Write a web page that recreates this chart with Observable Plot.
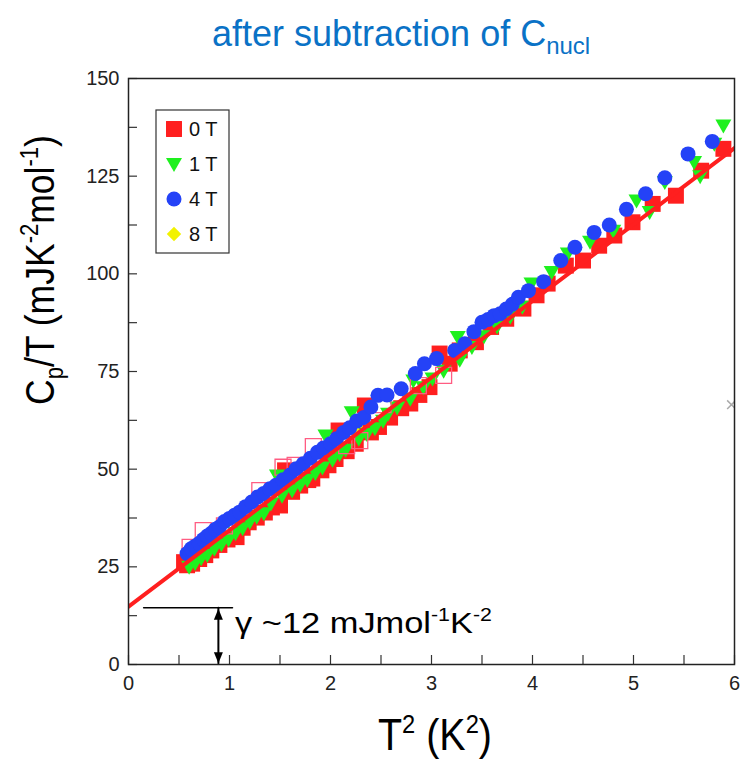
<!DOCTYPE html>
<html><head><meta charset="utf-8">
<script src="https://cdn.jsdelivr.net/npm/d3@7"></script>
<script src="https://cdn.jsdelivr.net/npm/@observablehq/plot@0.6"></script>
<style>
body{margin:0;background:#fff;}
#wrap{width:749px;height:764px;position:relative;overflow:hidden;background:#fff;}
#title{height:60px;box-sizing:border-box;padding-left:212px;padding-top:16px;font-family:"Liberation Sans",Arial,sans-serif;font-size:36px;line-height:1;color:#0a72c6;white-space:nowrap;}
#title sub{font-size:24px;vertical-align:-8px;line-height:0;}
svg{display:block;}
</style></head><body>
<div id="wrap"><div id="title">after subtraction of C<sub>nucl</sub></div><div id="chart"></div></div>
<script>
// ---- data ----
const seriesNames = ["0 T", "1 T", "4 T", "8 T"];
const seriesColors = ["#ff1f1f", "#1ef01e", "#2442f7", "#f2f200"];

const x0T = [0.55,0.58,0.63,0.70,0.76,0.82,0.90,0.98,1.07,1.13,1.19,1.27,1.35,1.42,1.50,1.55,1.62,1.70,1.78,1.82,1.91,1.98,2.00,2.05,2.08,2.16,2.25,2.34,2.40,2.48,2.59,2.70,2.79,2.88,2.98,3.08,3.18,3.28,3.44,3.59,3.74,3.91,4.04,4.15,4.33,4.50,4.66,4.81,4.99,5.19,5.42,5.67,5.89];
const y0T = [26.2,25.4,25.8,27.0,28.0,29.2,30.6,32.0,32.6,35.0,36.4,37.6,38.9,40.2,40.7,49.7,44.2,45.8,47.2,47.6,49.7,51.0,52.7,52.6,59.9,54.6,56.5,66.3,59.4,60.8,63.2,65.6,66.8,69.0,71.0,79.6,77.0,80.4,82.5,86.4,88.5,91.1,94.5,97.5,102.1,103.4,107.2,109.8,113.2,117.9,120.0,126.4,132.0];

const x1T = [0.60,0.66,0.72,0.78,0.85,0.92,0.99,1.06,1.13,1.20,1.27,1.34,1.41,1.47,1.52,1.62,1.70,1.77,1.85,1.92,1.95,2.02,2.09,2.15,2.21,2.28,2.36,2.44,2.52,2.57,2.66,2.79,2.82,2.92,3.01,3.12,3.26,3.28,3.40,3.52,3.65,3.78,3.90,3.99,4.19,4.35,4.57,4.80,5.03,5.16,5.31,5.60,5.66,5.80,5.89];
const y1T = [25.0,26.0,27.2,28.0,29.6,30.8,32.0,33.6,34.9,36.5,37.8,38.7,41.2,48.4,43.2,44.6,46.0,47.3,49.0,50.4,58.6,52.4,53.9,55.0,64.6,57.8,59.0,60.5,62.4,64.2,65.8,68.0,72.7,71.0,73.2,75.2,83.8,78.0,81.3,84.0,86.5,89.0,91.6,97.5,100.5,105.2,108.2,111.0,118.8,115.8,123.5,128.6,125.0,133.3,138.0];

const x4T = [0.58,0.62,0.66,0.70,0.74,0.78,0.82,0.86,0.90,0.95,1.00,1.05,1.10,1.16,1.22,1.28,1.34,1.40,1.46,1.53,1.60,1.66,1.73,1.80,1.87,1.93,2.00,2.06,2.13,2.19,2.26,2.33,2.40,2.47,2.56,2.70,2.84,2.93,3.05,3.23,3.33,3.42,3.50,3.56,3.62,3.68,3.74,3.80,3.86,3.96,4.11,4.28,4.42,4.61,4.76,4.93,5.12,5.31,5.54,5.78];
const y4T = [28.4,29.6,30.3,31.0,32.0,32.9,33.6,34.6,35.2,36.6,37.4,38.2,39.0,40.4,41.6,42.9,43.8,45.0,45.9,47.3,48.5,50.1,51.4,52.8,54.3,55.4,56.5,57.8,59.4,60.6,62.3,63.2,65.9,68.9,69.0,70.6,74.5,77.0,78.3,80.4,82.1,85.2,87.6,88.3,89.3,89.8,91.0,92.2,94.0,95.7,98.0,103.4,106.8,110.6,112.5,116.5,120.5,124.6,130.7,133.9];

const x8T = [0.90,1.60,2.30];
const y8T = [32.4,46.2,60.0];

// open (hollow) pink squares
const xOpen = [0.61,0.74,0.95,1.30,1.53,1.65,1.83,2.16,2.29,2.52,2.87,3.12];
const yOpen = [30.0,34.3,35.5,44.5,50.5,51.0,55.8,56.0,57.3,66.5,71.4,74.0];

// stray grey point at the right edge
const xStray = [5.97];
const yStray = [66.5];

// linear fit
const fitX = [0, 6];
const fitY = [14.8, 132.2];

// gamma annotation
const gammaLineX = [0.15, 1.03];
const gammaLineY = [14.5, 14.5];
const gammaArrowX = 0.89;
const gammaArrowY = [14.5, 0.3];
const gammaTextX = 1.06;
const gammaTextY = 7.9;

// ticks
const xTickLabels = [0,1,2,3,4,5,6];
const yTickLabels = [0,25,50,75,100,125,150];
const xMinorTicks = [0,0.5,1,1.5,2,2.5,3,3.5,4,4.5,5,5.5,6];
const yMinorTicks = [0,12.5,25,37.5,50,62.5,75,87.5,100,112.5,125,137.5,150];

// ---- helpers ----
const toRows = (xs, ys) => xs.map((x, i) => ({x, y: ys[i]}));
const triDown = {draw(ctx, size) { const k = Math.sqrt(size) / 14.18; ctx.moveTo(-8*k, -6*k); ctx.lineTo(8*k, -6*k); ctx.lineTo(0, 8*k); ctx.closePath(); }};
const headUp = {draw(ctx) { ctx.moveTo(0, 0); ctx.lineTo(4.5, 11); ctx.lineTo(-4.5, 11); ctx.closePath(); }};
const headDown = {draw(ctx) { ctx.moveTo(0, 0); ctx.lineTo(4.5, -11); ctx.lineTo(-4.5, -11); ctx.closePath(); }};

const W = 749, H = 704, mL = 128, mR = 15, mT = 18, mB = 100;
const fw = W - mL - mR, fh = H - mT - mB;
const FONT = '"Liberation Sans", Arial, sans-serif';

const plot = Plot.plot({
  width: W, height: H, marginLeft: mL, marginRight: mR, marginTop: mT, marginBottom: mB,
  style: {fontFamily: FONT, fontSize: "20px", color: "#222", background: "#fff", overflow: "visible"},
  x: {domain: [0, 6], ticks: xTickLabels, tickFormat: d => String(d), tickSize: 0, tickPadding: 11, label: null},
  y: {domain: [0, 150], ticks: yTickLabels, tickFormat: d => String(d), tickSize: 0, tickPadding: 9, label: null},
  marks: [
    Plot.tickX(xMinorTicks, {x: d => d, insetTop: fh - 9, stroke: "#333", strokeWidth: 1.2}),
    Plot.tickY(yMinorTicks, {y: d => d, insetRight: fw - 9, stroke: "#333", strokeWidth: 1.2}),
    Plot.dot(toRows(x8T, y8T), {x: "x", y: "y", symbol: "diamond2", r: 6.5, fill: seriesColors[3], clip: true}),
    Plot.dot(toRows(x0T, y0T), {x: "x", y: "y", symbol: "square", r: 9, fill: seriesColors[0], clip: true}),
    Plot.dot(toRows(x1T, y1T), {x: "x", y: "y", symbol: triDown, r: 8, fill: seriesColors[1], clip: true}),
    Plot.dot(toRows(xOpen, yOpen), {x: "x", y: "y", symbol: "square", r: 9, fill: "none", stroke: "#ff5c82", strokeWidth: 1.3, clip: true}),
    Plot.dot(toRows(x4T, y4T), {x: "x", y: "y", symbol: "circle", r: 7.5, fill: seriesColors[2], clip: true}),
    Plot.line(toRows(fitX, fitY), {x: "x", y: "y", stroke: "#ff1f1f", strokeWidth: 4, clip: true}),
    Plot.dot(toRows(xStray, yStray), {x: "x", y: "y", symbol: "times", r: 4, stroke: "#aaa", strokeWidth: 1.5, clip: true}),
    Plot.line(toRows(gammaLineX, gammaLineY), {x: "x", y: "y", stroke: "#000", strokeWidth: 1.5}),
    Plot.line(gammaArrowY.map(y => ({x: gammaArrowX, y})), {x: "x", y: "y", stroke: "#000", strokeWidth: 2}),
    Plot.dot([{x: gammaArrowX, y: gammaArrowY[0]}], {x: "x", y: "y", symbol: headUp, r: 5, fill: "#000", dy: 1}),
    Plot.dot([{x: gammaArrowX, y: gammaArrowY[1]}], {x: "x", y: "y", symbol: headDown, r: 5, fill: "#000"}),
    Plot.frame({stroke: "#222", strokeWidth: 1.5})
  ]
});
document.getElementById("chart").appendChild(plot);

const svg = d3.select(plot);
const sx = plot.scale("x"), sy = plot.scale("y");

// rich text with sub/superscripts, horizontally scaled to a target width
function rich(x, y, rotate, anchor, parts, base, smallScale, supShift, subShift, targetWidth) {
  const outer = svg.append("g").attr("transform", `translate(${x},${y}) rotate(${rotate})`);
  const inner = outer.append("g");
  const t = inner.append("text").attr("font-family", FONT).attr("font-size", base)
    .attr("fill", "#000").attr("text-anchor", "start");
  let shift = 0;
  parts.forEach(([s, k]) => {
    const target = k === "sup" ? -supShift : k === "sub" ? subShift : 0;
    t.append("tspan").attr("dy", target - shift).attr("font-size", k === "n" ? base : base * smallScale).text(s);
    shift = target;
  });
  const w = t.node().getComputedTextLength();
  const s = targetWidth / w;
  const offset = anchor === "middle" ? -targetWidth / 2 : 0;
  inner.attr("transform", `translate(${offset},0) scale(${s},1)`);
  return t;
}

// y axis label
rich(54, 210, -90, "middle",
  [["C","n"],["p","sub"],["/T (mJK","n"],["-2","sup"],["mol","n"],["-1","sup"],[")","n"]],
  41, 0.62, 16, 9, 270);

// x axis label
rich((sx.apply(0) + sx.apply(6)) / 2 + 4, 690, 0, "middle",
  [["T","n"],["2","sup"],[" (K","n"],["2","sup"],[")","n"]],
  44, 0.6, 17, 0, 114);

// gamma annotation
rich(sx.apply(gammaTextX), sy.apply(gammaTextY), 0, "start",
  [["γ ~12 mJmol","n"],["-1","sup"],["K","n"],["-2","sup"]],
  30, 0.62, 12, 0, 257);

// legend
const lg = svg.append("g");
lg.append("rect").attr("x", 156).attr("y", 50).attr("width", 73).attr("height", 143)
  .attr("fill", "#fff").attr("stroke", "#333").attr("stroke-width", 1.2);
const legSymbols = [d3.symbolSquare, triDown, d3.symbolCircle, d3.symbolDiamond2];
const legR = [9, 8, 7.5, 6.5];
seriesNames.forEach((name, i) => {
  const cy = 69 + i * 35;
  lg.append("path").attr("transform", `translate(174,${cy})`)
    .attr("d", d3.symbol(legSymbols[i], Math.PI * legR[i] * legR[i])())
    .attr("fill", seriesColors[i]);
  lg.append("text").attr("x", 189).attr("y", cy).attr("dy", "0.36em").attr("text-anchor", "start")
    .attr("font-family", FONT).attr("font-size", 20).attr("fill", "#111").text(name);
});
</script>
</body></html>
